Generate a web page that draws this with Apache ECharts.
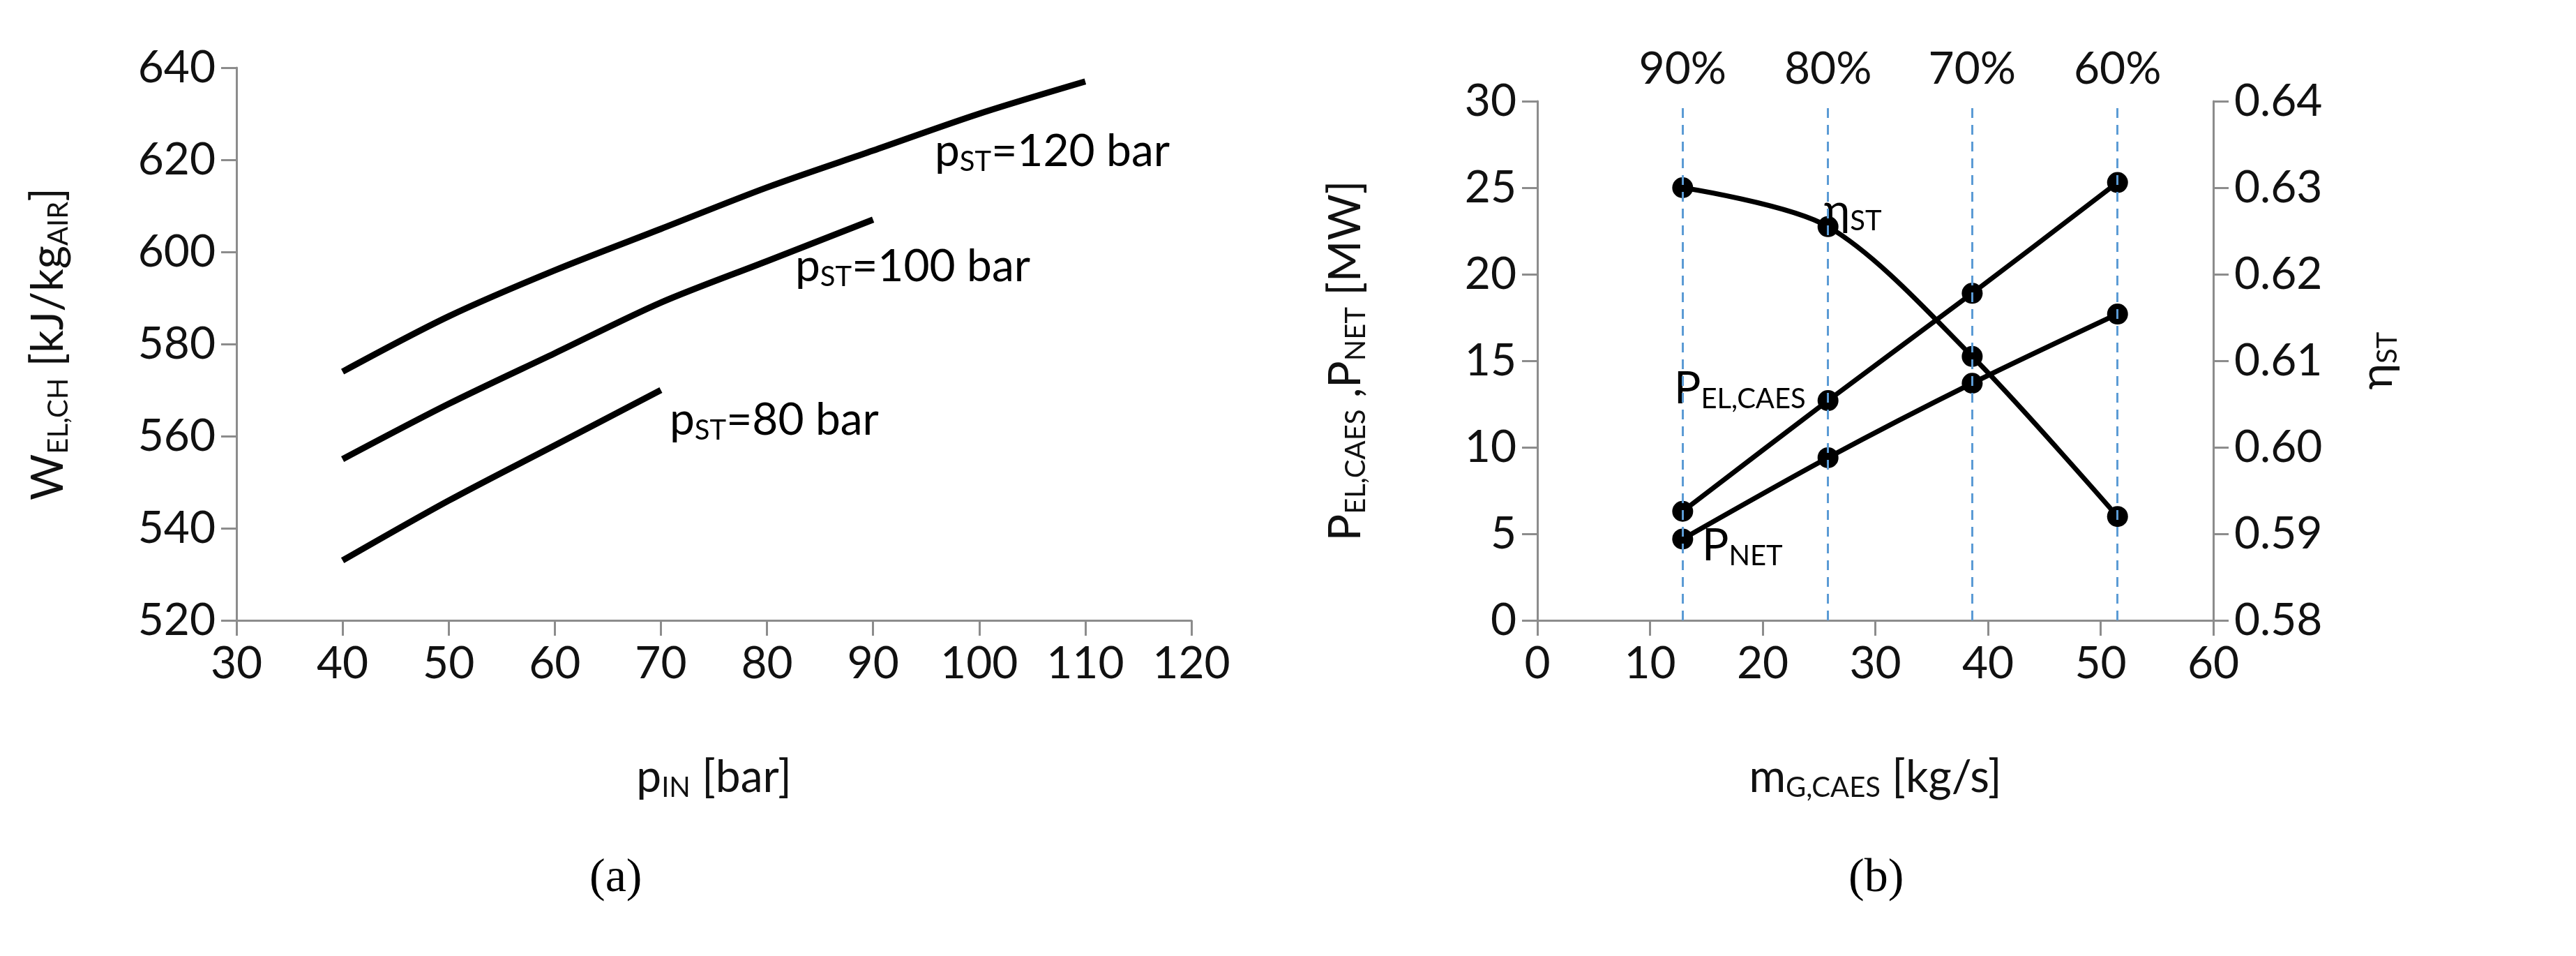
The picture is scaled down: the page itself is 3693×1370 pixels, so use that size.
<!DOCTYPE html>
<html><head><meta charset="utf-8">
<script src="https://cdn.jsdelivr.net/npm/echarts@6/dist/echarts.min.js"></script>
<style>html,body{margin:0;background:#fff}#c{width:3693px;height:1370px}</style>
</head><body><div id="c"></div>
<script>
const pIn120=[40,50,60,70,80,90,100,110];
const w120=[574,586,596,605,614,622,630,637];
const pIn100=[40,50,60,70,80,90];
const w100=[555,567,578,589,598,607];
const pIn80=[40,50,60,70];
const w80=[533,546,558,570];
const mG=[12.9,25.8,38.6,51.5];
const pElCaes=[6.3,12.7,18.9,25.3];
const pNet=[4.7,9.4,13.7,17.7];
const etaST=[0.630,0.6255,0.6105,0.592];
const loadPct=['90%','80%','70%','60%'];

const F='Lato, "Open Sans", sans-serif';
const pair=(xs,ys)=>xs.map((x,i)=>[x,ys[i]]);
const ax={lineStyle:{color:'#8c8c8c',width:3}};
const tick={show:true,length:22,lineStyle:{color:'#8c8c8c',width:3}};
const lab={fontSize:64,fontFamily:F,color:'#111',margin:30};
const rich={s:{fontSize:40,fontFamily:F,color:'#111',padding:[30,0,0,0]},n:{fontSize:64,fontFamily:F,color:'#111'}};
const c=echarts.init(document.getElementById('c'));
const lineS=(d,xi,yi)=>({type:'line',data:d,xAxisIndex:xi,yAxisIndex:yi,smooth:0.3,showSymbol:false,symbol:'none',lineStyle:{color:'#000',width:9},animation:false});
const ptS=(d,yi)=>({type:'line',data:d,xAxisIndex:1,yAxisIndex:yi,smooth:0.3,symbol:'circle',symbolSize:30,itemStyle:{color:'#000'},lineStyle:{color:'#000',width:7},animation:false});
c.setOption({
 animation:false,
 grid:[{left:339,right:1985,top:97,bottom:481},{left:2204,right:520,top:145,bottom:481}],
 xAxis:[
  {type:'value',gridIndex:0,min:30,max:120,interval:10,axisLine:ax,axisTick:tick,splitLine:{show:false},axisLabel:lab,
   name:'{n|p}{s|IN}{n| [bar]}',nameLocation:'middle',nameGap:190,nameTextStyle:{rich}},
  {type:'value',gridIndex:1,min:0,max:60,interval:10,axisLine:ax,axisTick:tick,splitLine:{show:false},axisLabel:lab,
   name:'{n|m}{s|G,CAES}{n| [kg/s]}',nameLocation:'middle',nameGap:190,nameTextStyle:{rich}}
 ],
 yAxis:[
  {type:'value',gridIndex:0,min:520,max:640,interval:20,axisLine:{show:true,...ax},axisTick:tick,splitLine:{show:false},axisLabel:lab,
   name:'{n|W}{s|EL,CH}{n| [kJ/kg}{s|AIR}{n|]}',nameLocation:'middle',nameGap:235,nameRotate:90,nameTextStyle:{rich}},
  {type:'value',gridIndex:1,min:0,max:30,interval:5,axisLine:{show:true,...ax},axisTick:tick,splitLine:{show:false},axisLabel:lab,
   name:'{n|P}{s|EL,CAES}{n| ,P}{s|NET}{n| [MW]}',nameLocation:'middle',nameGap:240,nameRotate:90,nameTextStyle:{rich}},
  {type:'value',gridIndex:1,position:'right',min:0.58,max:0.64,interval:0.01,axisLine:{show:true,...ax},axisTick:tick,splitLine:{show:false},
   axisLabel:{...lab,formatter:v=>v.toFixed(2)},
   name:'{n|η}{s|ST}',nameLocation:'middle',nameGap:200,nameRotate:90,nameTextStyle:{rich}}
 ],
 series:[
  lineS(pair(pIn120,w120),0,0),lineS(pair(pIn100,w100),0,0),lineS(pair(pIn80,w80),0,0),
  {...ptS(pair(mG,pElCaes),1),markLine:{silent:true,symbol:'none',animation:false,
    lineStyle:{color:'#5b9bd5',type:[14,10],width:3},
    label:{show:true,position:'end',distance:14,fontSize:64,fontFamily:F,color:'#111',formatter:p=>p.name},
    data:mG.map((x,i)=>({xAxis:x,name:loadPct[i]}))}},
  ptS(pair(mG,pNet),1),
  ptS(pair(mG,etaST),2)
 ],
 graphic:[
  {type:'text',left:1340,top:185,style:{rich,text:'{n|p}{s|ST}{n|=120 bar}'}},
  {type:'text',left:1140,top:350,style:{rich,text:'{n|p}{s|ST}{n|=100 bar}'}},
  {type:'text',left:960,top:570,style:{rich,text:'{n|p}{s|ST}{n|=80 bar}'}},
  {type:'text',left:2615,top:270,style:{rich,text:'{n|η}{s|ST}'}},
  {type:'text',left:2400,top:525,style:{rich,text:'{n|P}{s|EL,CAES}'}},
  {type:'text',left:2440,top:750,style:{rich,text:'{n|P}{s|NET}'}},
  {type:'text',left:845,top:1225,style:{text:'(a)',font:'68px "Liberation Serif", serif',fill:'#000'}},
  {type:'text',left:2650,top:1225,style:{text:'(b)',font:'68px "Liberation Serif", serif',fill:'#000'}}
 ]
});
</script></body></html>
